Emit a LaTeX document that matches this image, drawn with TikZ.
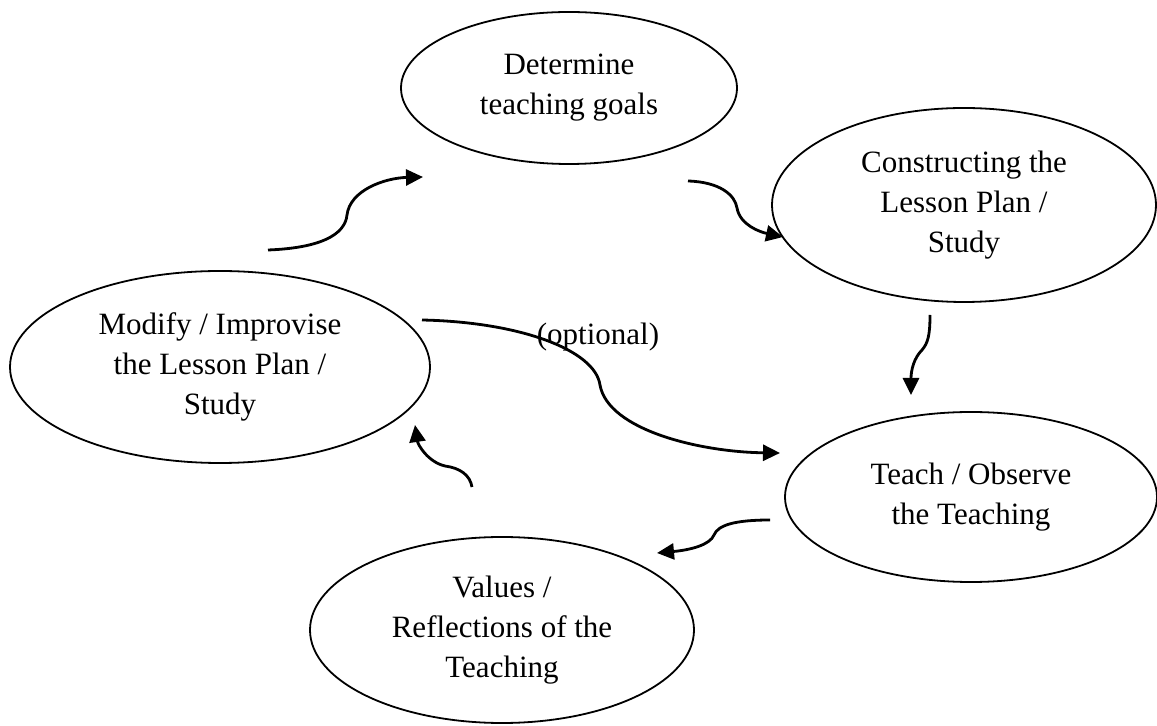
\documentclass[tikz,border=0pt]{standalone}
\usepackage{fontspec}
\setmainfont{Liberation Serif}
\usetikzlibrary{shapes.geometric,arrows.meta}
\begin{document}
\begin{tikzpicture}[x = 0.5pt, y = -0.5pt,
            bubble/.style = {draw, ellipse, line width = 0.9pt, inner sep = 0pt, align = center,
                             font = \fontsize{15.5}{20}\selectfont},
            flow/.style = {line width = 1.4pt, -{Triangle[length = 8.5pt, width = 8pt]}}]
            \useasboundingbox (0, 0) rectangle (1157, 726);
            \node[bubble, minimum width = 168pt, minimum height = 76pt] (goals)  at (569, 88)  {Determine\\teaching goals};
            \node[bubble, minimum width = 192pt, minimum height = 97pt] (plan)   at (964, 205) {Constructing the\\Lesson Plan /\\Study};
            \node[bubble, minimum width = 186pt, minimum height = 85pt] (teach)  at (971, 497) {Teach / Observe\\the Teaching};
            \node[bubble, minimum width = 192pt, minimum height = 93pt] (values) at (502, 630) {Values /\\Reflections of the\\Teaching};
            \node[bubble, minimum width = 210pt, minimum height = 96pt] (modify) at (220, 367) {Modify / Improvise\\the Lesson Plan /\\Study};
            \node[font = \fontsize{15.5}{20}\selectfont] (opt) at (598, 337) {(optional)};
            \coordinate (a1) at (268, 250); \coordinate (b1) at (423, 177);
            \coordinate (a2) at (688, 181); \coordinate (b2) at (783, 237);
            \coordinate (a3) at (930, 315); \coordinate (b3) at (911, 395);
            \coordinate (a4) at (422, 320); \coordinate (b4) at (780, 453);
            \coordinate (a5) at (770, 520); \coordinate (b5) at (657, 553);
            \coordinate (a6) at (472, 487); \coordinate (b6) at (415, 425);
            \draw[flow] (a1) .. controls (320, 248) and (345, 235) .. (347, 215)
                             .. controls (350, 190) and (385, 178) .. (b1);
            \draw[flow] (a2) .. controls (720, 182) and (735, 195) .. (737, 208)
                             .. controls (740, 225) and (760, 232) .. (b2);
            \draw[flow] (a3) .. controls (930, 335) and (928, 343) .. (922, 350)
                             .. controls (914, 358) and (911, 370) .. (b3);
            \draw[flow] (a4) .. controls (520, 322) and (595, 350) .. (600, 385)
                             .. controls (608, 430) and (700, 452) .. (b4);
            \draw[flow] (a5) .. controls (735, 520) and (718, 525) .. (714, 535)
                             .. controls (710, 545) and (690, 550) .. (b5);
            \draw[flow] (a6) .. controls (470, 475) and (460, 468) .. (445, 466)
                             .. controls (428, 462) and (418, 445) .. (b6);
        \end{tikzpicture}
\end{document}
